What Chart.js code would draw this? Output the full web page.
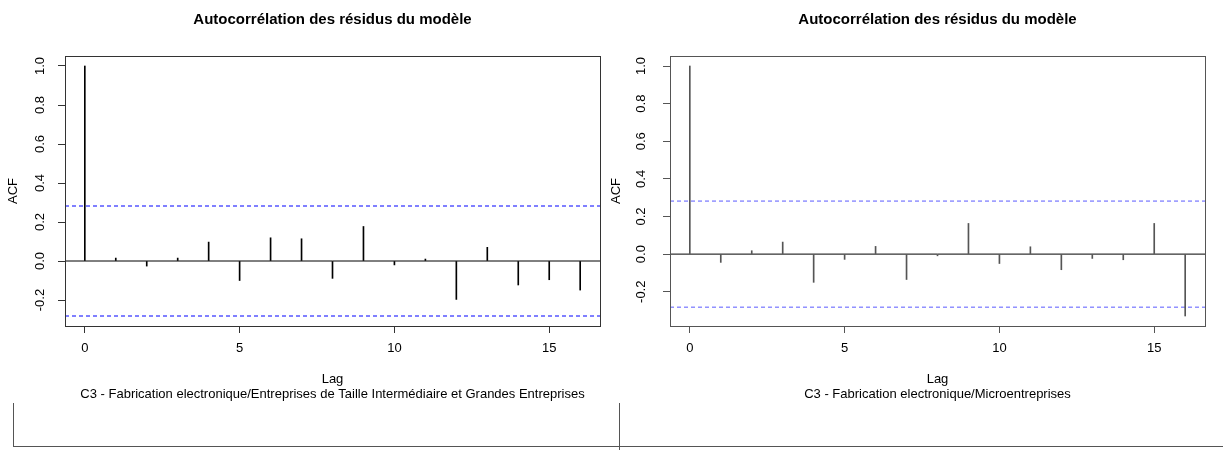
<!DOCTYPE html>
<html lang="fr">
<head>
  <meta charset="UTF-8">
  <title>Autocorrélation des résidus du modèle</title>
  <script src="https://cdn.jsdelivr.net/npm/chart.js"></script>
  <style>
    body { margin: 0; background: #fff; }
    #page { position: relative; width: 1223px; height: 450px; overflow: hidden; }
    .box { position: absolute; top: 0; height: 450px; }
    #left { left: 0; width: 612px; }
    #right { left: 605px; width: 618px; }
    .frame { position: absolute; border-left: 1px solid #555; }
  </style>
</head>
<body>
<div id="page">
  <div class="box" id="left"><canvas id="acfLeft"></canvas></div>
  <div class="box" id="right"><canvas id="acfRight"></canvas></div>
  <!-- bits of the next plot frame peeking in at the bottom -->
  <div class="frame" style="left:13px; top:403px; width:1210px; height:43px; border-bottom:1px solid #555;"></div>
  <div class="frame" style="left:619px; top:403px; height:47px;"></div>
</div>

<script>
// data
const lags = [0, 1, 2, 3, 4, 5, 6, 7, 8, 9, 10, 11, 12, 13, 14, 15, 16];
const acfEti = [1.0, 0.015, -0.026, 0.015, 0.097, -0.100, 0.119, 0.114, -0.089, 0.177, -0.020, 0.010, -0.197, 0.070, -0.123, -0.096, -0.149];
const acfMicro = [1.0, -0.044, 0.018, 0.064, -0.150, -0.028, 0.041, -0.135, -0.009, 0.163, -0.050, 0.039, -0.083, -0.023, -0.030, 0.163, -0.329];
const ciBound = 0.282;
const lagTicks = [0, 5, 10, 15];
const acfTicks = [-0.2, 0.0, 0.2, 0.4, 0.6, 0.8, 1.0];
const mainTitle = 'Autocorrélation des résidus du modèle';
const subEti = 'C3 - Fabrication electronique/Entreprises de Taille Intermédiaire et Grandes Entreprises';
const subMicro = 'C3 - Fabrication electronique/Microentreprises';

const FONT = '"Liberation Sans", Arial, sans-serif';

// R style: box round the plot region + main title above it
const rPlotDecor = {
  id: 'rPlotDecor',
  afterDraw(chart, args, opts) {
    const { ctx, chartArea: a } = chart;
    ctx.save();
    ctx.strokeStyle = opts.boxColor;
    ctx.lineWidth = 1;
    ctx.strokeRect(a.left + 0.5, a.top + 0.5, a.right - a.left, a.bottom - a.top);
    ctx.fillStyle = '#000';
    ctx.font = 'bold 15px ' + FONT;
    ctx.textAlign = 'center';
    ctx.textBaseline = 'middle';
    ctx.fillText(opts.title, (a.left + a.right) / 2, 20);
    ctx.restore();
  }
};

function makeAcfChart(id, acf, subtitle, look) {
  // axis ranges like R: data range stretched by 4%
  const lo = Math.min(Math.min(...acf), -ciBound);
  const hi = Math.max(Math.max(...acf), ciBound);
  const yPad = (hi - lo) * 0.04;
  const xPad = (lags[lags.length - 1] - lags[0]) * 0.04;
  const xMin = lags[0] - xPad, xMax = lags[lags.length - 1] + xPad;

  const flat = v => [{ x: xMin, y: v }, { x: xMax, y: v }];
  const lineDs = (v, color, dash) => ({
    type: 'line', data: flat(v), borderColor: color, borderWidth: 1,
    borderDash: dash, pointRadius: 0, fill: false, order: 2
  });

  return new Chart(document.getElementById(id), {
    type: 'bar',
    data: {
      datasets: [
        {
          data: lags.map((l, i) => ({ x: l, y: acf[i] })),
          backgroundColor: look.spike,
          barThickness: 1,
          order: 1
        },
        lineDs(0, '#000', []),
        lineDs(ciBound, look.blue, [4, 3]),
        lineDs(-ciBound, look.blue, [4, 3])
      ]
    },
    options: {
      responsive: true,
      maintainAspectRatio: false,
      animation: false,
      layout: { padding: { top: 56, right: look.padRight, left: 0, bottom: 0 } },
      plugins: {
        legend: { display: false },
        tooltip: { enabled: false },
        rPlotDecor: { title: mainTitle, boxColor: look.box }
      },
      scales: {
        x: {
          type: 'linear',
          offset: false,
          min: xMin,
          max: xMax,
          afterBuildTicks: s => { s.ticks = lagTicks.map(v => ({ value: v })); },
          afterFit: s => { s.height = 124; },
          grid: { offset: false, drawOnChartArea: false, tickLength: 7, color: look.box },
          border: { display: false },
          ticks: { color: '#000', padding: 8, font: { family: FONT, size: 13 } },
          title: {
            display: true,
            text: ['Lag', subtitle],
            color: '#000',
            font: { family: FONT, size: 13, lineHeight: 1.154 },
            padding: { top: 0, bottom: 48.5 }
          }
        },
        y: {
          min: lo - yPad,
          max: hi + yPad,
          afterBuildTicks: s => { s.ticks = acfTicks.map(v => ({ value: v })); },
          afterFit: s => { s.width = 65; },
          grid: { drawOnChartArea: false, tickLength: 7, color: look.box },
          border: { display: false },
          ticks: {
            color: '#000', minRotation: 90, maxRotation: 90, crossAlign: 'center',
            padding: look.labelPad, font: { family: FONT, size: 13 },
            callback: v => v.toFixed(1)
          },
          title: {
            display: true, text: 'ACF', color: '#000',
            font: { family: FONT, size: 13 },
            padding: { top: look.titlePad, bottom: 0 }
          }
        }
      }
    },
    plugins: [rPlotDecor]
  });
}

makeAcfChart('acfLeft', acfEti, subEti,
  { spike: '#000', blue: '#0000ff', box: '#333', padRight: 12, labelPad: 6, titlePad: 5.5 });
makeAcfChart('acfRight', acfMicro, subMicro,
  { spike: '#555', blue: '#5a5aff', box: '#555', padRight: 18, labelPad: 10, titlePad: 3.7 });
</script>
</body>
</html>
